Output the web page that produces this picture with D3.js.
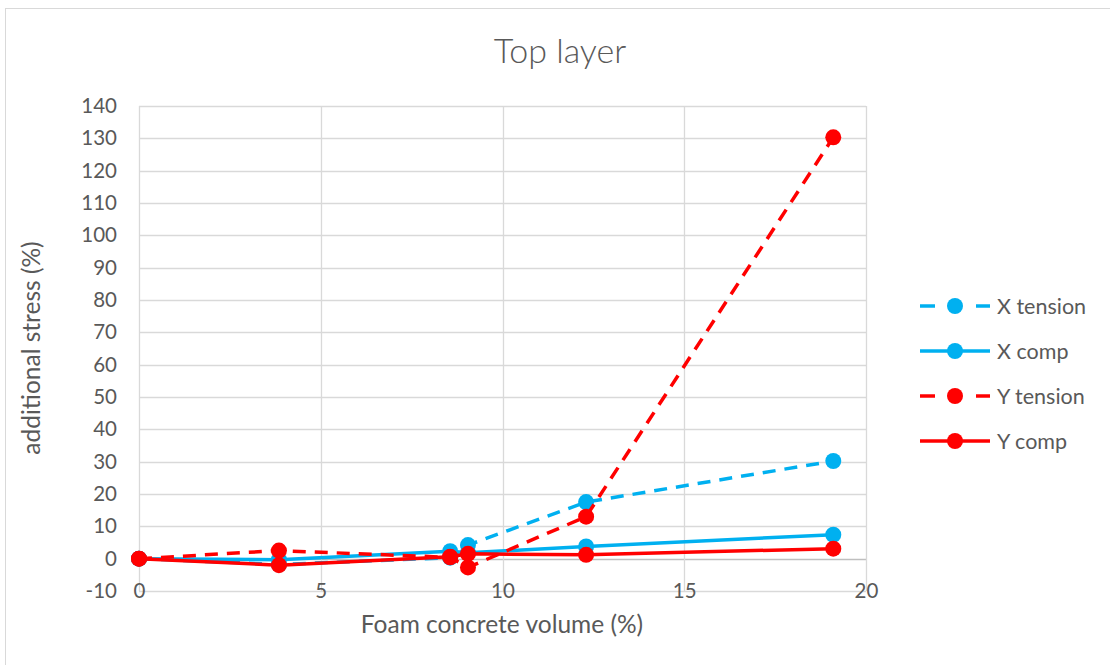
<!DOCTYPE html>
<html>
<head>
<meta charset="utf-8">
<script src="https://cdn.jsdelivr.net/npm/d3@7"></script>
<style>
  html, body { margin: 0; padding: 0; background: #fff; }
  svg { display: block; font-family: Lato, "Open Sans", sans-serif; }
</style>
</head>
<body>
<svg id="chart" width="1110" height="665"></svg>
<script>
// Foam concrete volume (%) for each model run
const volume = [0, 3.85, 8.56, 9.05, 12.3, 19.1];

// Additional stress (%) in the top layer
const xTension = [0, -1.8, 0.3, 4.2, 17.5, 30.2];
const xComp    = [0, -0.3, 2.3, 1.8, 3.8, 7.4];
const yTension = [0, 2.5, 0.4, -2.7, 13.0, 130.3];
const yComp    = [0, -2.0, 0.6, 1.5, 1.2, 3.1];

const seriesNames = ["X tension", "X comp", "Y tension", "Y comp"];
const seriesValues = [xTension, xComp, yTension, yComp];

const xTicks = [0, 5, 10, 15, 20];
const yTicks = d3.range(-10, 141, 10);

const blue = "#00b0f0", red = "#ff0000";
const styles = [
  { color: blue, dash: "13,9" },
  { color: blue, dash: null },
  { color: red,  dash: "13,9" },
  { color: red,  dash: null }
];

const svg = d3.select("#chart");
const textColor = "#595959";

// chart frame
svg.append("rect")
  .attr("x", 5.5).attr("y", 8.5)
  .attr("width", 1200).attr("height", 800)
  .attr("fill", "#fff").attr("stroke", "#d9d9d9").attr("stroke-width", 1);

const plot = { left: 139, right: 866, top: 106, bottom: 591 };

const x = d3.scaleLinear().domain([0, 20]).range([plot.left, plot.right]);
const y = d3.scaleLinear().domain([-10, 140]).range([plot.bottom, plot.top]);

// gridlines
const grid = svg.append("g");
grid.selectAll("line.h").data(yTicks).join("line")
  .attr("x1", plot.left).attr("x2", plot.right)
  .attr("y1", d => Math.round(y(d)) + 0.5).attr("y2", d => Math.round(y(d)) + 0.5)
  .attr("stroke", d => d === 0 ? "#bfbfbf" : "#d9d9d9").attr("stroke-width", 1.3);
grid.selectAll("line.v").data(xTicks).join("line")
  .attr("y1", plot.top).attr("y2", plot.bottom)
  .attr("x1", d => Math.round(x(d)) + 0.5).attr("x2", d => Math.round(x(d)) + 0.5)
  .attr("stroke", "#d9d9d9").attr("stroke-width", 1.3);

// y axis labels (plain hyphen for negatives)
const yAxis = d3.axisLeft(y).tickValues(yTicks).tickFormat(d => String(d))
  .tickSize(0).tickPadding(22);
const gy = svg.append("g").attr("transform", `translate(${plot.left},0)`).call(yAxis);
gy.select(".domain").remove();
gy.selectAll("text").attr("fill", textColor).attr("font-size", 20.5)
  .attr("font-family", "Lato, sans-serif");

// x axis labels, sitting on the bottom gridline
const xAxis = d3.axisBottom(x).tickValues(xTicks).tickFormat(d => String(d))
  .tickSize(0).tickPadding(0);
const gx = svg.append("g").attr("transform", `translate(0,${plot.bottom})`).call(xAxis);
gx.select(".domain").remove();
gx.selectAll("text").attr("fill", textColor).attr("font-size", 20.5)
  .attr("font-family", "Lato, sans-serif")
  .attr("dy", "0.35em").attr("y", 0);

// title and axis titles
svg.append("text").attr("x", 560).attr("y", 63).attr("text-anchor", "middle")
  .attr("fill", textColor).attr("font-size", 34).attr("font-weight", 300)
  .text("Top layer");
svg.append("text").attr("x", 502).attr("y", 633).attr("text-anchor", "middle")
  .attr("fill", textColor).attr("font-size", 24.5)
  .text("Foam concrete volume (%)");
svg.append("text").attr("transform", "translate(40,348) rotate(-90)")
  .attr("text-anchor", "middle").attr("fill", textColor).attr("font-size", 24.5)
  .text("additional stress (%)");

// series lines and markers
const line = d3.line().x(d => x(d[0])).y(d => y(d[1]));
seriesValues.forEach((vals, i) => {
  const pts = volume.map((v, j) => [v, vals[j]]);
  const g = svg.append("g");
  g.append("path").datum(pts)
    .attr("d", line).attr("fill", "none")
    .attr("stroke", styles[i].color).attr("stroke-width", 3.5)
    .attr("stroke-dasharray", styles[i].dash)
    .attr("stroke-linejoin", "round");
  g.selectAll("circle").data(pts).join("circle")
    .attr("cx", d => x(d[0])).attr("cy", d => y(d[1])).attr("r", 8)
    .attr("fill", styles[i].color);
});

// legend
const legend = svg.append("g");
seriesNames.forEach((name, i) => {
  const ly = 306 + i * 45;
  const g = legend.append("g");
  if (styles[i].dash) {
    g.append("line").attr("x1", 920).attr("x2", 935).attr("y1", ly).attr("y2", ly)
      .attr("stroke", styles[i].color).attr("stroke-width", 3.5);
    g.append("line").attr("x1", 976).attr("x2", 990).attr("y1", ly).attr("y2", ly)
      .attr("stroke", styles[i].color).attr("stroke-width", 3.5);
  } else {
    g.append("line").attr("x1", 920).attr("x2", 990).attr("y1", ly).attr("y2", ly)
      .attr("stroke", styles[i].color).attr("stroke-width", 3.5);
  }
  g.append("circle").attr("cx", 955).attr("cy", ly).attr("r", 8).attr("fill", styles[i].color);
  g.append("text").attr("x", 997).attr("y", ly).attr("dy", "0.35em")
    .attr("fill", textColor).attr("font-size", 21.5).text(name);
});
</script>
</body>
</html>
